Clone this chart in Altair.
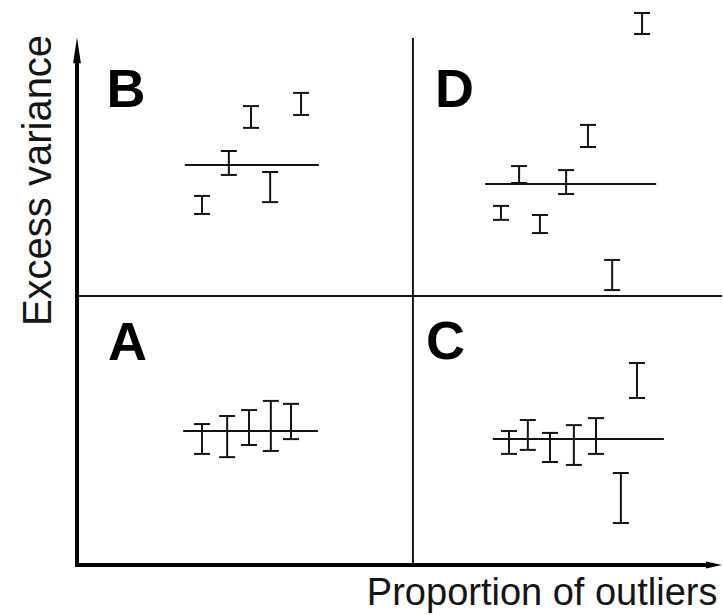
import altair as alt
import pandas as pd

INK = "#141414"
FONT = "Liberation Sans"

# ---- data (arbitrary units: x = proportion of outliers, y = excess variance)
bar_quadrant = ["A"] * 5 + ["B"] * 5 + ["C"] * 7 + ["D"] * 7
bar_x = [3.72, 4.47, 5.12, 5.77, 6.37,
         3.72, 4.52, 5.18, 5.75, 6.67,
         12.86, 13.42, 14.08, 14.79, 15.45, 16.67, 16.19,
         12.62, 13.16, 13.78, 14.56, 15.21, 15.93, 16.82]
bar_low = [4.13, 4.01, 4.46, 4.24, 4.68,
           13.05, 14.50, 16.25, 13.49, 16.73,
           4.13, 4.28, 3.83, 3.72, 4.13, 6.21, 1.56,
           12.83, 14.20, 12.34, 13.79, 15.54, 10.22, 19.74]
bar_high = [5.24, 5.54, 5.76, 6.10, 5.99,
            13.72, 15.39, 17.06, 14.61, 17.55,
            4.98, 5.39, 4.91, 5.20, 5.46, 7.51, 3.42,
            13.35, 14.83, 13.01, 14.68, 16.36, 11.34, 20.52]

quadrants = ["A", "B", "C", "D"]
mean_start = [3.16, 3.21, 12.38, 12.15]
mean_end = [7.17, 7.20, 17.47, 17.24]
mean_level = [4.98, 14.87, 4.68, 14.16]
label_x = [0.92, 0.88, 10.39, 10.66]
label_y = [7.62, 17.03, 7.66, 17.03]

# quadrant dividers and axes
divider_x = [0.0, 10.0]
divider_x2 = [19.2, 10.0]
divider_y = [10.0, 0.0]
divider_y2 = [10.0, 19.59]
axis_x = [0.0, 0.0]
axis_x2 = [18.9, 0.0]
axis_y = [0.0, 0.0]
axis_y2 = [0.0, 18.9]
arrow_x = [18.96, 0.0]
arrow_y = [0.0, 19.14]
arrow_shape = ["M1,0L-1,0.45L-1,-0.45Z", "M0,-1L0.3,1L-0.3,1Z"]
arrow_size = [256, 676]

bars = pd.DataFrame({"q": bar_quadrant, "x": bar_x, "lo": bar_low, "hi": bar_high})
caps = pd.DataFrame({"x": bar_x + bar_x, "y": bar_low + bar_high})
means = pd.DataFrame({"q": quadrants, "x": mean_start, "x2": mean_end, "y": mean_level})
labels = pd.DataFrame({"q": quadrants, "x": label_x, "y": label_y})
dividers = pd.DataFrame({"x": divider_x, "x2": divider_x2, "y": divider_y, "y2": divider_y2})
axes = pd.DataFrame({"x": axis_x, "x2": axis_x2, "y": axis_y, "y2": axis_y2})
arrows = pd.DataFrame({"x": arrow_x, "y": arrow_y, "shape": arrow_shape, "size": arrow_size})

XS = alt.Scale(domain=[0, 19.2], nice=False, zero=False)
YS = alt.Scale(domain=[0, 20], nice=False, zero=False)
XA = alt.Axis(title="Proportion of outliers", labels=False, ticks=False, domain=False,
              grid=False, titleFont=FONT, titleFontSize=38, titleFontWeight="normal",
              titleColor=INK, titleAlign="right", titleBaseline="alphabetic",
              titleX=640, titleY=39)
YA = alt.Axis(title="Excess variance", labels=False, ticks=False, domain=False,
              grid=False, titleFont=FONT, titleFontSize=40, titleFontWeight="normal",
              titleColor=INK, titleAngle=270, titleAlign="center",
              titleBaseline="alphabetic", titleX=-27, titleY=153)


def X(field):
    return alt.X(field, type="quantitative", scale=XS, axis=XA)


def Y(field):
    return alt.Y(field, type="quantitative", scale=YS, axis=YA)


divider_layer = alt.Chart(dividers).mark_rule(color=INK, strokeWidth=2).encode(
    x=X("x"), x2="x2", y=Y("y"), y2="y2")
axis_layer = alt.Chart(axes).mark_rule(color="#000000", strokeWidth=4, strokeCap="square").encode(
    x=X("x"), x2="x2", y=Y("y"), y2="y2")
arrow_layer = alt.Chart(arrows).mark_point(filled=True, opacity=1, color="#000000").encode(
    x=X("x"), y=Y("y"),
    shape=alt.Shape("shape:N", scale=None, legend=None),
    size=alt.Size("size:Q", scale=None, legend=None))
mean_layer = alt.Chart(means).mark_rule(color=INK, strokeWidth=2).encode(
    x=X("x"), x2="x2", y=Y("y"))
bar_layer = alt.Chart(bars).mark_rule(color=INK, strokeWidth=2).encode(
    x=X("x"), y=Y("lo"), y2="hi")
cap_layer = alt.Chart(caps).mark_tick(color=INK, orient="horizontal", size=16, thickness=2,
                                      opacity=1).encode(x=X("x"), y=Y("y"))
label_layer = alt.Chart(labels).mark_text(
    font=FONT, fontWeight="bold", fontSize=54, align="left", baseline="alphabetic",
    color="#000000").encode(x=X("x"), y=Y("y"), text="q:N")

chart = alt.layer(
    divider_layer, axis_layer, arrow_layer, mean_layer, bar_layer, cap_layer, label_layer
).properties(
    width=645, height=538,
    autosize=alt.AutoSizeParams(type="none"),
    padding={"left": 77, "top": 27, "right": 1, "bottom": 50},
    background="white",
).configure_view(stroke=None)

chart.save("out.html", embed_options={"renderer": "svg", "actions": False})
